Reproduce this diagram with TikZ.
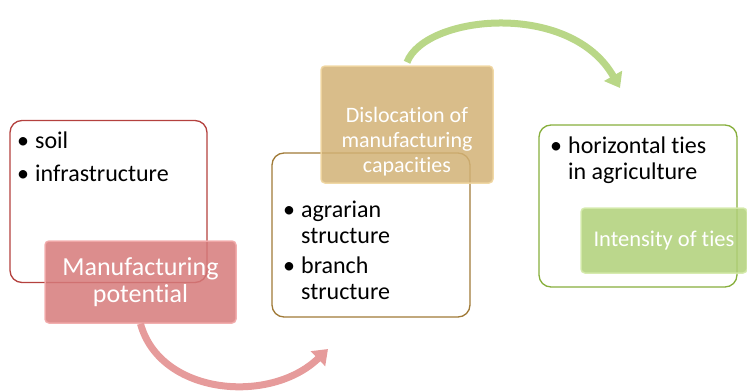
\documentclass[tikz,border=0pt]{standalone}
\usepackage{fontspec}
\setmainfont{Carlito}[Ligatures=NoCommon]
\usetikzlibrary{arrows.meta}
\definecolor{redline}{RGB}{180,65,62}
\definecolor{redfill}{RGB}{214,122,122}
\definecolor{redlight}{RGB}{242,170,170}
\definecolor{redarrow}{RGB}{230,155,155}
\definecolor{goldline}{RGB}{160,122,55}
\definecolor{goldfill}{RGB}{210,178,118}
\definecolor{goldlight}{RGB}{240,214,160}
\definecolor{greenline}{RGB}{135,175,60}
\definecolor{greenfill}{RGB}{176,208,120}
\definecolor{greenlight}{RGB}{212,234,170}
\definecolor{greenarrow}{RGB}{185,215,135}
\begin{document}
\begin{tikzpicture}[x=1pt,y=-1pt,
    listbox/.style={draw=#1, line width=1.3pt, fill=white, rounded corners=12pt},
    headbox/.style={fill=#1fill, draw=#1light, line width=1.5pt, fill opacity=0.85, draw opacity=0.9,
        text opacity=1, rounded corners=4pt, text=white, align=center, inner sep=0pt},
    listtext/.style={anchor=north west, inner sep=0pt, align=left, font=\fontsize{24}{26}\selectfont},
    bigarrow/.style={line width=7pt, draw=#1, -{Triangle[width=20pt,length=14pt]}}]
\useasboundingbox (0,0) rectangle (747,391);
\node[listbox=redline, minimum width=197pt, minimum height=162pt] (soilbox) at (108.5,201.5) {};
\node[listbox=goldline, minimum width=198pt, minimum height=164pt] (agrarbox) at (371,235) {};
\node[listbox=greenline, minimum width=198pt, minimum height=162pt] (tiesbox) at (638,206) {};
\node[listtext] (soil) at (17,132) {\textbullet\hspace{6pt}soil\\[7pt]\textbullet\hspace{6pt}infrastructure};
\node[listtext] (agrar) at (283,199) {\begin{tabular}{@{}l@{\hspace{6pt}}l@{}}
    \textbullet & agrarian\\ & structure\\[4pt] \textbullet & branch\\ & structure\end{tabular}};
\node[listtext] (ties) at (550,135) {\begin{tabular}{@{}l@{\hspace{6pt}}l@{}}
    \textbullet & horizontal ties\\ & in agriculture\end{tabular}};
\node[headbox=red, minimum width=191pt, minimum height=82pt, font=\fontsize{26}{27}\selectfont]
    (potential) at (140.5,282) {Manufacturing\\potential};
\node[headbox=gold, minimum width=172pt, minimum height=117pt] (dislocation) at (407,124.5) {};
\node[text=white, align=center, inner sep=0pt, font=\fontsize{22}{25}\selectfont]
    (dislocationtext) at (407,142) {Dislocation of\\manufacturing\\capacities};
\node[headbox=green, minimum width=166pt, minimum height=65pt, font=\fontsize{22.5}{23}\selectfont]
    (intensity) at (664,240.5) {Intensity of ties};
\coordinate (redend) at (328,349);
\coordinate (greenend) at (620,88);
\draw[bigarrow=redarrow] (potential.south) .. controls (160,395) and (270,405) .. (redend);
\draw[bigarrow=greenarrow] ([yshift=3pt]dislocation.north) .. controls (425,15) and (570,0) .. (greenend);
\end{tikzpicture}
\end{document}
